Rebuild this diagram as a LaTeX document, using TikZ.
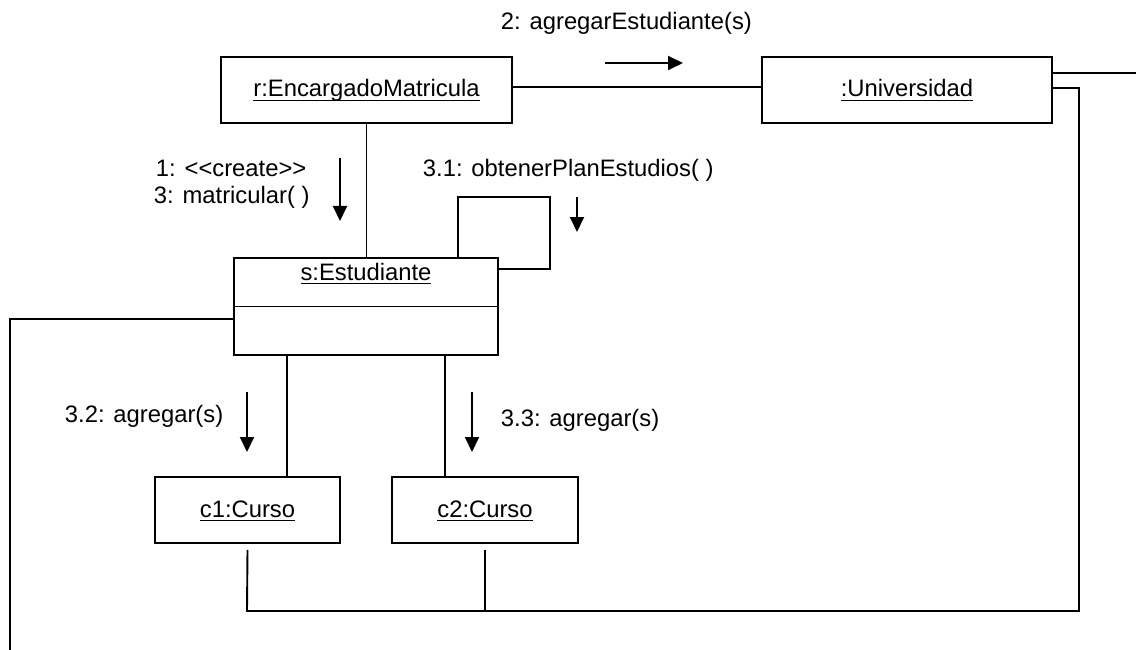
\documentclass[tikz,border=0pt]{standalone}
\usepackage{fontspec}
\setmainfont{Liberation Sans}
\usetikzlibrary{arrows.meta}
\newcommand\ulx[1]{\setbox0\hbox{#1}\rlap{\rule[-4.3pt]{\wd0}{1.4pt}}\box0}
\begin{document}
\begin{tikzpicture}[x=1pt,y=-1pt,line width=1.9pt,
  font=\fontsize{23.8}{27}\selectfont,
  obj/.style={draw,rectangle,inner sep=0pt,minimum height=66pt,text height=14pt,text depth=0pt},
  msg/.style={-{Triangle[width=14pt,length=15pt]}},
  lbl/.style={anchor=base west,inner sep=0pt}]
\useasboundingbox (0,0) rectangle (1136,650);
% objects
\node[obj,minimum width=291pt] (enc) at (366.5,90) {\ulx{r:EncargadoMatricula}};
\node[obj,minimum width=290pt] (uni) at (907,90) {\ulx{:Universidad}};
\node[draw,rectangle,minimum width=264pt,minimum height=97pt,inner sep=0pt] (est) at (366,306.5) {};
\node[anchor=base,inner sep=0pt] (estl) at (366,280) {\ulx{s:Estudiante}};
\draw (est.west) -- (est.east);
\node[obj,minimum width=185pt] (c1) at (247.5,510) {\ulx{c1:Curso}};
\node[obj,minimum width=186pt] (c2) at (485,510) {\ulx{c2:Curso}};
% links
\draw ([yshift=3pt]enc.east) -- ([yshift=3pt]uni.west);
\coordinate (rend) at (1136,73);
\draw ([yshift=17pt]uni.east) -- (rend);
\coordinate (br) at (1079,611);
\coordinate (bl) at (247,611);
\draw ([yshift=2pt]uni.east) -| (br) -- (bl) -- ([yshift=-6pt]c1.south);
\draw ([yshift=-6pt]c2.south) -- (c2.south |- bl);
\draw (enc.south) -- (enc.south |- est.north);
\coordinate (loopc) at (550,197);
\draw ([xshift=92pt]est.north) |- (loopc) |- ([yshift=37.5pt]est.east);
\coordinate (s1) at ([xshift=-79pt]est.south);
\coordinate (s2) at ([xshift=79pt]est.south);
\draw (s1) -- (s1 |- c1.north);
\draw (s2) -- (s2 |- c2.north);
\coordinate (lend) at (10,650);
\draw ([yshift=-12.5pt]est.west) -| (lend);
% message arrows
\coordinate (a2s) at (605,63); \coordinate (a2e) at (683,63);
\draw[msg] (a2s) -- (a2e);
\coordinate (a1s) at (340,158); \coordinate (a1e) at (340,221);
\draw[msg] (a1s) -- (a1e);
\coordinate (a31s) at (577,197); \coordinate (a31e) at (577,232);
\draw[msg] (a31s) -- (a31e);
\coordinate (a32s) at (247,392); \coordinate (a32e) at (247,452);
\draw[msg] (a32s) -- (a32e);
\coordinate (a33s) at (472,392); \coordinate (a33e) at (472,452);
\draw[msg] (a33s) -- (a33e);
% labels
\node[lbl] (l2) at (500,30) {2: agregarEstudiante(s)};
\node[lbl] (l1) at (155,177) {1: <{}<create>{}>};
\node[lbl] (l3) at (153,204) {3: matricular( )};
\node[lbl] (l31) at (422,177) {3.1: obtenerPlanEstudios( )};
\node[lbl] (l32) at (64,422) {3.2: agregar(s)};
\node[lbl] (l33) at (500,426) {3.3: agregar(s)};
\end{tikzpicture}
\end{document}
